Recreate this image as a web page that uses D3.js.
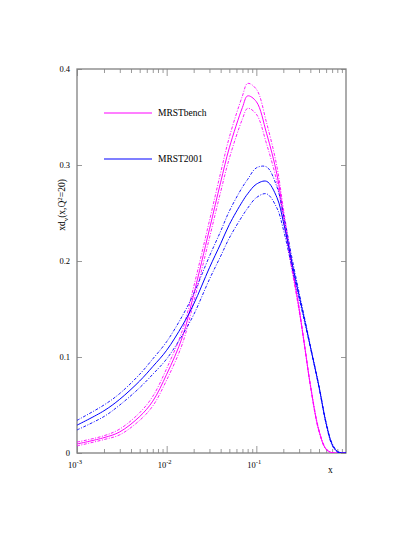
<!DOCTYPE html>
<html>
<head>
<meta charset="utf-8">
<script src="https://cdn.jsdelivr.net/npm/d3@7"></script>
<style>
  html, body { margin: 0; padding: 0; background: #fff; }
  text { font-family: "Liberation Serif", "DejaVu Serif", serif; fill: #000; }
</style>
</head>
<body>
<div id="chart"></div>
<script>
const xs = [0.001, 0.002, 0.003, 0.005, 0.007, 0.01, 0.015, 0.02, 0.03, 0.04, 0.05,
            0.07, 0.08, 0.1, 0.13, 0.17, 0.2, 0.25, 0.3, 0.35, 0.4, 0.5, 0.6, 0.7, 0.8, 0.9, 1.0];

// MRSTbench (magenta)
const benchCentral = [0.0094, 0.016, 0.022, 0.038, 0.054, 0.082, 0.121, 0.165, 0.233, 0.282, 0.318,
                      0.360, 0.372, 0.366, 0.333, 0.290, 0.249, 0.194, 0.150, 0.108, 0.071, 0.023, 0.004, 0.0003, 0, 0, 0];
const benchUpper   = [0.0114, 0.018, 0.025, 0.042, 0.059, 0.088, 0.128, 0.173, 0.242, 0.292, 0.329,
                      0.372, 0.385, 0.379, 0.344, 0.298, 0.255, 0.198, 0.152, 0.109, 0.072, 0.024, 0.0045, 0.0003, 0, 0, 0];
const benchLower   = [0.0074, 0.014, 0.019, 0.034, 0.049, 0.076, 0.114, 0.157, 0.224, 0.272, 0.307,
                      0.348, 0.359, 0.353, 0.322, 0.282, 0.243, 0.190, 0.148, 0.107, 0.070, 0.022, 0.0035, 0.0003, 0, 0, 0];

// MRST2001 (blue)
const mrstCentral = [0.029, 0.044, 0.056, 0.075, 0.090, 0.107, 0.133, 0.155, 0.193, 0.218, 0.238,
                     0.262, 0.270, 0.280, 0.283, 0.266, 0.241, 0.198, 0.164, 0.136, 0.111, 0.069, 0.031, 0.009, 0.0015, 0, 0];
const mrstUpper    = [0.034, 0.050, 0.062, 0.082, 0.098, 0.116, 0.143, 0.166, 0.205, 0.231, 0.252,
                     0.277, 0.285, 0.297, 0.298, 0.277, 0.249, 0.203, 0.167, 0.138, 0.112, 0.070, 0.032, 0.010, 0.002, 0, 0];
const mrstLower    = [0.024, 0.038, 0.050, 0.068, 0.082, 0.098, 0.123, 0.144, 0.181, 0.205, 0.224,
                     0.247, 0.255, 0.266, 0.270, 0.255, 0.233, 0.193, 0.161, 0.134, 0.110, 0.068, 0.030, 0.008, 0.001, 0, 0];

const yTicks = [0, 0.1, 0.2, 0.3, 0.4];
const yTickLabels = ['0', '0.1', '0.2', '0.3', '0.4'];
const xMajor = [1e-3, 1e-2, 1e-1];
const xMajorExp = ['-3', '-2', '-1'];

const seriesList = [
  { name: 'MRSTbench', color: '#ff00ff', central: benchCentral, upper: benchUpper, lower: benchLower },
  { name: 'MRST2001',  color: '#0000ff', central: mrstCentral,  upper: mrstUpper,  lower: mrstLower },
];

const W = 415, H = 537;
const L = 77, R = 346, T = 69, B = 453;
const AXIS = '#808080';

const svg = d3.select('#chart').append('svg').attr('width', W).attr('height', H);

const x = d3.scaleLog().domain([1e-3, 1]).range([L, R]);
const y = d3.scaleLinear().domain([0, 0.4]).range([B, T]);

svg.append('defs').append('clipPath').attr('id', 'plot')
  .append('rect').attr('x', L).attr('y', T).attr('width', R - L).attr('height', B - T);

// minor + major x ticks, bottom (pointing up) and top (pointing down)
const minor = [];
for (let e = -3; e < 0; e++) for (let k = 2; k <= 9; k++) minor.push(k * Math.pow(10, e));

svg.append('g').attr('transform', `translate(0,${B})`)
  .call(d3.axisBottom(x).tickValues(minor).tickSize(-4).tickFormat(''))
  .call(a => a.select('.domain').remove());
svg.append('g').attr('transform', `translate(0,${B})`)
  .call(d3.axisBottom(x).tickValues(xMajor).tickSize(-7).tickFormat(''))
  .call(a => a.select('.domain').remove());
svg.append('g').attr('transform', `translate(0,${T})`)
  .call(d3.axisTop(x).tickValues(minor).tickSize(-4).tickFormat(''))
  .call(a => a.select('.domain').remove());
svg.append('g').attr('transform', `translate(0,${T})`)
  .call(d3.axisTop(x).tickValues(xMajor).tickSize(-7).tickFormat(''))
  .call(a => a.select('.domain').remove());

// y ticks, left and right
svg.append('g').attr('transform', `translate(${L},0)`)
  .call(d3.axisLeft(y).tickValues(yTicks).tickSize(-5).tickFormat(''))
  .call(a => a.select('.domain').remove());
svg.append('g').attr('transform', `translate(${R},0)`)
  .call(d3.axisRight(y).tickValues(yTicks).tickSize(-5).tickFormat(''))
  .call(a => a.select('.domain').remove());

svg.selectAll('.tick line').attr('stroke', AXIS).attr('stroke-width', 0.8);

// frame
svg.append('rect').attr('x', L).attr('y', T).attr('width', R - L).attr('height', B - T)
  .attr('fill', 'none').attr('stroke', AXIS).attr('stroke-width', 1.3);

// tick labels
svg.append('g').selectAll('text').data(yTicks).join('text')
  .attr('x', L - 7).attr('y', d => y(d) + 3)
  .attr('text-anchor', 'end').attr('font-size', 8.5)
  .text((d, i) => yTickLabels[i]);

const xl = svg.append('g').selectAll('text').data(xMajor).join('text')
  .attr('x', d => x(d) - 2).attr('y', B + 15)
  .attr('text-anchor', 'middle').attr('font-size', 8.5);
xl.append('tspan').text('10');
xl.append('tspan').attr('dy', -4).attr('font-size', 6.5).text((d, i) => xMajorExp[i]);

svg.append('text').attr('x', 328).attr('y', 473).attr('font-size', 9.5).text('x');

// y axis title
const yt = svg.append('text').attr('transform', 'translate(65,205) rotate(-90)')
  .attr('text-anchor', 'middle').attr('font-size', 9.5);
yt.append('tspan').text('xd');
yt.append('tspan').attr('dy', 2.5).attr('font-size', 7).text('v');
yt.append('tspan').attr('dy', -2.5).text('(x,Q');
yt.append('tspan').attr('dy', -3.5).attr('font-size', 7).text('2');
yt.append('tspan').attr('dy', 3.5).text('=20)');

// curves
const line = vals => d3.line()
  .x((d, i) => x(xs[i]))
  .y(d => y(d))
  .curve(d3.curveCatmullRom.alpha(0.5))(vals);

const plot = svg.append('g').attr('clip-path', 'url(#plot)');
seriesList.forEach(s => {
  [s.upper, s.lower].forEach(vals => {
    plot.append('path').attr('d', line(vals))
      .attr('fill', 'none').attr('stroke', s.color).attr('stroke-width', 0.9)
      .attr('stroke-dasharray', '3,1.5,1,1.5');
  });
  plot.append('path').attr('d', line(s.central))
    .attr('fill', 'none').attr('stroke', s.color).attr('stroke-width', 1);
});

// legend
const leg = svg.append('g');
seriesList.forEach((s, i) => {
  const ly = 113 + i * 46;
  leg.append('line').attr('x1', 104).attr('x2', 152).attr('y1', ly).attr('y2', ly)
    .attr('stroke', s.color).attr('stroke-width', 1.2);
  leg.append('text').attr('x', 158).attr('y', ly + 3).attr('font-size', 9.5).text(s.name);
});
</script>
</body>
</html>
